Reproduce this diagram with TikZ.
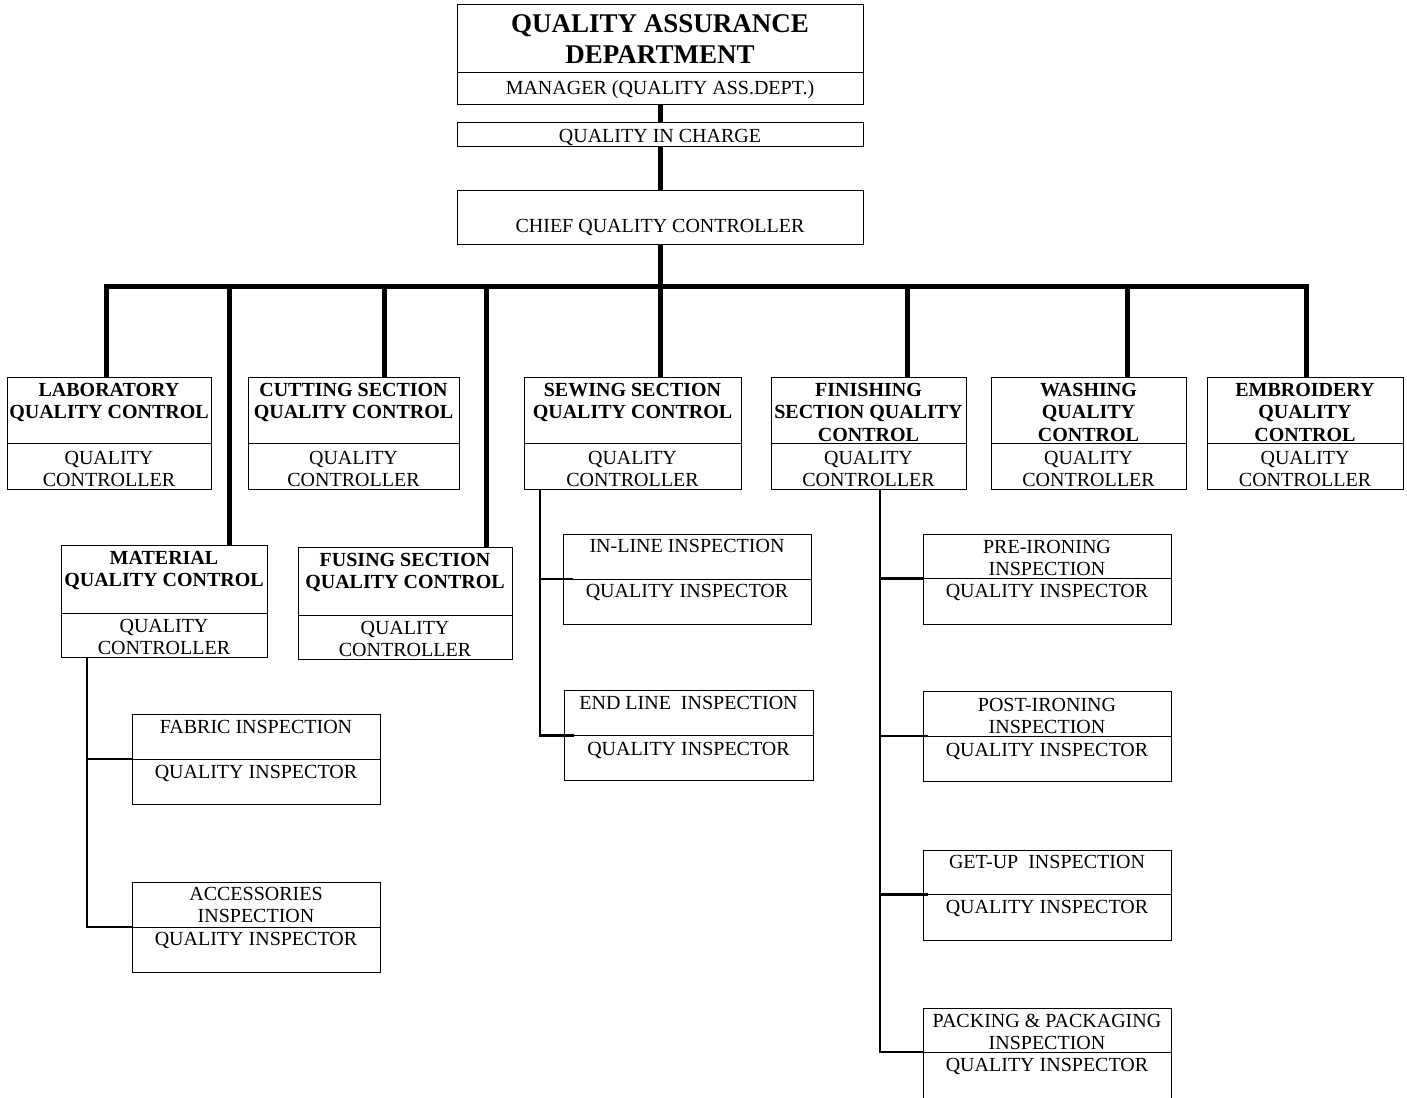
\documentclass[tikz,border=0pt]{standalone}
\usepackage{fontspec}
\setmainfont{Liberation Serif}
\usetikzlibrary{fit}
\tikzset{
  qb/.style={draw, line width=1pt, inner sep=0pt},
  divl/.style={line width=1pt},
  trunk/.style={line width=5pt},
  branch/.style={line width=2.5pt},
  reg/.style={font=\fontsize{20}{22.6}\selectfont, align=center, inner sep=0pt, anchor=north},
  bld/.style={font=\bfseries\fontsize{20}{22.6}\selectfont, align=center, inner sep=0pt, anchor=north},
  ttl/.style={font=\bfseries\fontsize{27}{31}\selectfont, align=center, inner sep=0pt, anchor=north},
}
\newcommand{\qbox}[6]{%
  \node[qb, fit={(#2,-#3) (#4,-#5)}] (#1) {};
  \coordinate (#1-d) at (#2,-#6);
  \draw[divl] (#1-d) -- (#4,-#6);}
\newcommand{\qtxt}[5]{%
  \node[#4] (#1) at (#2.north |- 0,15-#3) {\rule{0pt}{15pt}#5};}
\begin{document}
\begin{tikzpicture}[x=1pt,y=1pt]
\useasboundingbox (0,0) rectangle (1407,-1097);
% ---- boxes
\qbox{top}{457}{5}{863}{105}{72.5}
\node[qb, fit={(457,-123) (863,-146)}] (qic) {};
\node[qb, fit={(457,-190) (863,-244)}] (chief) {};
\qbox{lab}{7}{377}{211}{489}{443}
\qbox{cut}{248}{377}{459}{489}{443}
\qbox{sew}{524}{377}{741}{489}{443}
\qbox{fin}{771}{377}{966}{489}{443}
\qbox{wash}{991}{377}{1186}{489}{443}
\qbox{emb}{1207}{377}{1403}{489}{443}
\qbox{mat}{61}{545}{267}{657}{613}
\qbox{fus}{298}{547}{512}{659}{615}
\qbox{fab}{132}{714}{380}{804}{759}
\qbox{acc}{132}{882}{380}{972}{927}
\qbox{inl}{563}{534}{811}{624}{579}
\qbox{endl}{564}{690}{813}{780}{735.5}
\qbox{pre}{923}{534}{1171}{624}{578.5}
\qbox{post}{923}{691}{1171}{781}{736}
\qbox{getup}{923}{850}{1171}{940}{894.5}
\qbox{pack}{923}{1008}{1171}{1100}{1052}
% ---- texts
\node[ttl] (t-top) at (top.north |- 0,-12) {\rule{0pt}{20pt}QUALITY ASSURANCE\\DEPARTMENT};
\qtxt{t-mgr}{top}{94}{reg}{MANAGER (QUALITY ASS.DEPT.)}
\qtxt{t-qic}{qic}{142}{reg}{QUALITY IN CHARGE}
\qtxt{t-chief}{chief}{232}{reg}{CHIEF QUALITY CONTROLLER}
\qtxt{t-lab}{lab}{396}{bld}{LABORATORY\\QUALITY CONTROL}
\qtxt{t-lab2}{lab}{464}{reg}{QUALITY\\CONTROLLER}
\qtxt{t-cut}{cut}{396}{bld}{CUTTING SECTION\\QUALITY CONTROL}
\qtxt{t-cut2}{cut}{464}{reg}{QUALITY\\CONTROLLER}
\qtxt{t-sew}{sew}{396}{bld}{SEWING SECTION\\QUALITY CONTROL}
\qtxt{t-sew2}{sew}{464}{reg}{QUALITY\\CONTROLLER}
\qtxt{t-fin}{fin}{396}{bld}{FINISHING\\SECTION QUALITY\\CONTROL}
\qtxt{t-fin2}{fin}{464}{reg}{QUALITY\\CONTROLLER}
\qtxt{t-wash}{wash}{396}{bld}{WASHING\\QUALITY\\CONTROL}
\qtxt{t-wash2}{wash}{464}{reg}{QUALITY\\CONTROLLER}
\qtxt{t-emb}{emb}{396}{bld}{EMBROIDERY\\QUALITY\\CONTROL}
\qtxt{t-emb2}{emb}{464}{reg}{QUALITY\\CONTROLLER}
\qtxt{t-mat}{mat}{564}{bld}{MATERIAL\\QUALITY CONTROL}
\qtxt{t-mat2}{mat}{632}{reg}{QUALITY\\CONTROLLER}
\qtxt{t-fus}{fus}{566}{bld}{FUSING SECTION\\QUALITY CONTROL}
\qtxt{t-fus2}{fus}{634}{reg}{QUALITY\\CONTROLLER}
\qtxt{t-fab}{fab}{733}{reg}{FABRIC INSPECTION}
\qtxt{t-fab2}{fab}{778}{reg}{QUALITY INSPECTOR}
\qtxt{t-acc}{acc}{900}{reg}{ACCESSORIES\\INSPECTION}
\qtxt{t-acc2}{acc}{945}{reg}{QUALITY INSPECTOR}
\qtxt{t-inl}{inl}{552}{reg}{IN-LINE INSPECTION}
\qtxt{t-inl2}{inl}{597}{reg}{QUALITY INSPECTOR}
\qtxt{t-end}{endl}{709}{reg}{END LINE\ \ INSPECTION}
\qtxt{t-end2}{endl}{755}{reg}{QUALITY INSPECTOR}
\qtxt{t-pre}{pre}{553}{reg}{PRE-IRONING\\INSPECTION}
\qtxt{t-pre2}{pre}{597}{reg}{QUALITY INSPECTOR}
\qtxt{t-post}{post}{711}{reg}{POST-IRONING\\INSPECTION}
\qtxt{t-post2}{post}{756}{reg}{QUALITY INSPECTOR}
\qtxt{t-get}{getup}{868}{reg}{GET-UP\ \ INSPECTION}
\qtxt{t-get2}{getup}{913}{reg}{QUALITY INSPECTOR}
\qtxt{t-pack}{pack}{1027}{reg}{PACKING \& PACKAGING\\INSPECTION}
\qtxt{t-pack2}{pack}{1071}{reg}{QUALITY INSPECTOR}
% ---- trunk connectors
\coordinate (b1) at (106,-286);
\coordinate (b2) at (229,-286);
\coordinate (b3) at (384,-286);
\coordinate (b4) at (486,-286);
\coordinate (b5) at (660,-286);
\coordinate (b6) at (907,-286);
\coordinate (b7) at (1127,-286);
\coordinate (b8) at (1306,-286);
\draw[trunk] (top.south) -- (qic.north);
\draw[trunk] (qic.south) -- (chief.north);
\draw[trunk] (chief.south) -- (b5 |- sew.north);
\draw[trunk] (b1 |- lab.north) -- (b1) -- (b8) -- (b8 |- emb.north);
\draw[trunk] (b2) -- (b2 |- mat.north);
\draw[trunk] (b3) -- (b3 |- cut.north);
\draw[trunk] (b4) -- (b4 |- fus.north);
\draw[trunk] (b6) -- (b6 |- fin.north);
\draw[trunk] (b7) -- (b7 |- wash.north);
% ---- branch connectors
\coordinate (ms) at (87,-657);
\coordinate (ss) at (540,-489);
\coordinate (fs) at (880,-489);
\draw[branch] (ms) |- (acc-d);
\draw[branch] (ms |- fab-d) -- (fab-d);
\draw[branch] (ss) |- ([xshift=10pt]endl-d);
\draw[branch] (ss |- inl-d) -- ([xshift=10pt]inl-d);
\draw[branch] (fs) |- (pack-d);
\draw[branch] (fs |- pre-d) -- (pre-d);
\draw[branch] (fs |- post-d) -- ([xshift=5pt]post-d);
\draw[branch] (fs |- getup-d) -- ([xshift=5pt]getup-d);
\end{tikzpicture}
\end{document}
